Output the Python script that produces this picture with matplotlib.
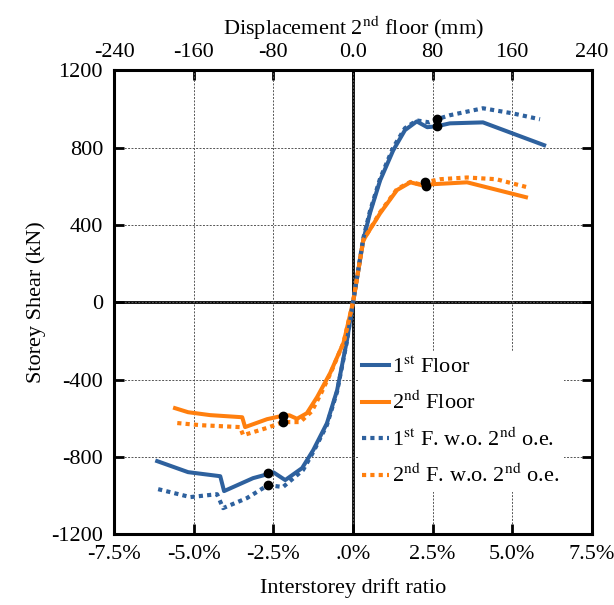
import numpy as np
import matplotlib
matplotlib.use("Agg")
import matplotlib.pyplot as plt

plt.rcParams['font.family'] = ['Liberation Serif', 'DejaVu Serif']
plt.rcParams['mathtext.fontset'] = 'stix'

# drift ratio (%) and storey shear (kN)
floor1_x = [-6.15, -5.18, -4.17, -4.05, -3.14, -2.67, -2.5, -2.13, -1.6, -1.25, -0.82, -0.5, -0.19, 0.0,
            0.32, 0.53, 0.85, 1.26, 1.63, 2.0, 2.33, 2.63, 3.04, 4.08, 6.0]
floor1_y = [-822, -879, -900, -977, -910, -889, -880, -920, -858, -765, -626, -455, -196, 0,
            320, 460, 630, 785, 890, 935, 905, 910, 925, 930, 812]

floor2_x = [-5.59, -5.18, -4.49, -3.48, -3.39, -2.7, -2.23, -2.0, -1.76, -1.45, -1.13, -0.72, -0.3, 0.0,
            0.32, 0.85, 1.38, 1.8, 2.16, 2.29, 2.48, 3.58, 5.43]
floor2_y = [-548, -569, -584, -595, -646, -605, -588, -585, -603, -574, -491, -367, -210, 0,
            320, 460, 580, 620, 605, 600, 610, 620, 543]

floor1_wo_x = [-6.12, -5.11, -4.27, -4.08, -3.33, -2.67, -2.2, -1.57, -1.25, -0.82, -0.5, -0.19, 0.0,
               0.32, 0.53, 0.85, 1.26, 1.63, 2.0, 2.4, 2.63, 3.04, 4.08, 5.0, 5.87]
floor1_wo_y = [-967, -1008, -993, -1065, -1013, -946, -956, -868, -775, -635, -462, -200, 0,
               330, 470, 640, 800, 900, 940, 930, 946, 967, 1003, 977, 946]

floor2_wo_x = [-5.52, -4.8, -3.55, -3.45, -2.7, -2.2, -1.66, -1.3, -1.0, -0.7, -0.3, 0.0,
               0.32, 0.85, 1.38, 1.8, 2.1, 2.26, 2.73, 3.58, 4.5, 5.46]
floor2_wo_y = [-625, -636, -646, -688, -650, -620, -620, -565, -470, -365, -210, 0,
               320, 465, 585, 622, 610, 620, 636, 645, 636, 595]

# yield points (black dots)
mark_x = [2.63, 2.63, 2.29, 2.26, -2.67, -2.67, -2.2, -2.2]
mark_y = [910, 946, 600, 620, -885, -946, -588, -618]

xticks = [-7.5, -5.0, -2.5, 0.0, 2.5, 5.0, 7.5]
xtick_labels = ['-7.5%', '-5.0%', '-2.5%', '.0%', '2.5%', '5.0%', '7.5%']
top_ticks = [-240, -160, -80, 0, 80, 160, 240]
top_labels = ['-240', '-160', '-80', '0.0', '80', '160', '240']
yticks = [-1200, -800, -400, 0, 400, 800, 1200]

blue = '#2e619e'
orange = '#ff7f0e'
fs = 16

fig = plt.figure(figsize=(6.14, 6.05), dpi=100)
ax = fig.add_axes([0.186, 0.117, 0.778, 0.767])

ax.axhline(0, color='black', lw=2.0, zorder=1)
ax.axvline(0, color='black', lw=2.0, zorder=1)

ax.plot(floor1_x, floor1_y, color=blue, lw=2.9, label=r'1$^{\mathrm{st}}$ Floor', zorder=3)
ax.plot(floor2_x, floor2_y, color=orange, lw=2.9, label=r'2$^{\mathrm{nd}}$ Floor', zorder=3)
ax.plot(floor1_wo_x, floor1_wo_y, color=blue, lw=3.0, ls=(0, (1, 1)),
        label=r'1$^{\mathrm{st}}$ F. w.o. 2$^{\mathrm{nd}}$ o.e.', zorder=3)
ax.plot(floor2_wo_x, floor2_wo_y, color=orange, lw=3.0, ls=(0, (1, 1)),
        label=r'2$^{\mathrm{nd}}$ F. w.o. 2$^{\mathrm{nd}}$ o.e.', zorder=3)
ax.plot(mark_x, mark_y, 'o', color='black', ms=6, zorder=4)

ax.set_xlim(-7.5, 7.5)
ax.set_ylim(-1200, 1200)
ax.set_xticks(xticks)
ax.set_xticklabels(xtick_labels)
ax.set_yticks(yticks)
ax.set_yticklabels([str(v) for v in yticks])
ax.tick_params(direction='in', length=7, width=2, labelsize=fs, right=True, pad=8)
ax.grid(True, ls=(0, (2, 1.5)), color='#555555', lw=0.7)
for s in ax.spines.values():
    s.set_linewidth(2.2)

sec = ax.secondary_xaxis('top', functions=(lambda x: x * 32, lambda x: x / 32))
sec.set_xticks(top_ticks)
sec.set_xticklabels(top_labels)
sec.tick_params(direction='in', length=7, width=2, labelsize=fs, pad=6)
sec.set_xlabel(r'Displacement 2$^{\mathrm{nd}}$ floor (mm)', fontsize=fs, labelpad=6)

ax.set_xlabel('Interstorey drift ratio', fontsize=fs, labelpad=10)
ax.set_ylabel('Storey Shear (kN)', fontsize=fs, labelpad=4)

leg = ax.legend(loc='upper left', bbox_to_anchor=(0.51, 0.392), fontsize=fs, frameon=True,
                fancybox=False, edgecolor='none', facecolor='white', framealpha=1,
                handlelength=1.2, handletextpad=0.15, labelspacing=0.6, borderpad=0.2,
                borderaxespad=0)

fig.savefig('out.png', dpi=100)
